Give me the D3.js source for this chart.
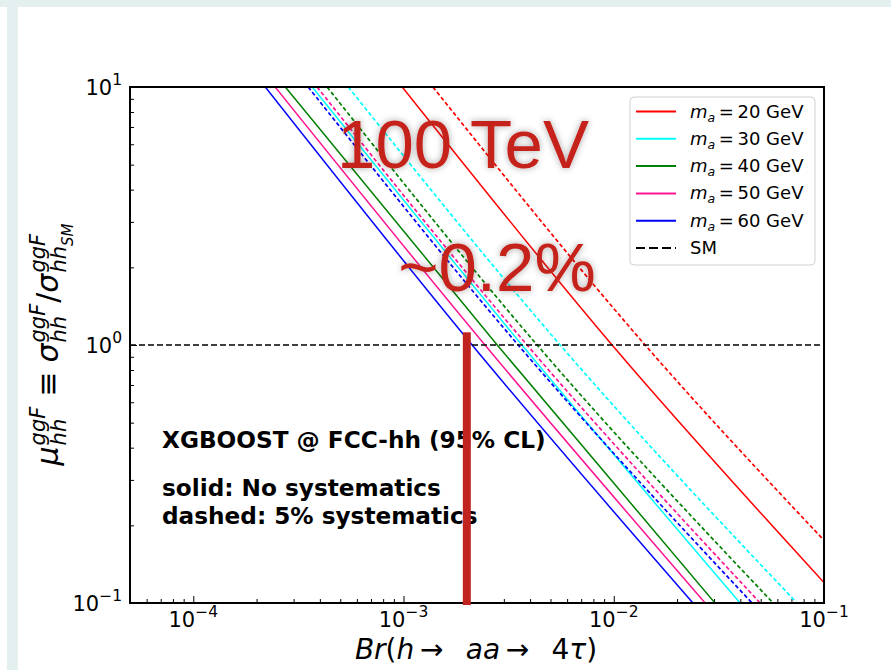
<!DOCTYPE html>
<html>
<head>
<meta charset="utf-8">
<script src="https://cdn.jsdelivr.net/npm/d3@7"></script>
<style>
  body { margin: 0; background: #fff; }
  svg { display: block; font-family: "DejaVu Sans", sans-serif; }
</style>
</head>
<body>
<div id="chart"></div>
<script>
// values
const brTicks = [1e-4, 1e-3, 1e-2, 1e-1];
const brTickExp = ["\u22124", "\u22123", "\u22122", "\u22121"];
const muTicks = [0.1, 1, 10];
const muTickExp = ["\u22121", "0", "1"];

const masses = [20, 30, 40, 50, 60];
// [Br, mu] points, solid = no systematics
const solidCurves = [
  [[9.86e-4, 10], [9.82e-3, 1], [0.1, 0.120]],
  [[3.68e-4, 10], [3.66e-3, 1], [3.99e-2, 0.1]],
  [[2.74e-4, 10], [2.79e-3, 1], [3.03e-2, 0.1]],
  [[2.45e-4, 10], [2.44e-3, 1], [2.72e-2, 0.1]],
  [[2.20e-4, 10], [2.12e-3, 1], [2.38e-2, 0.1]],
];
// dashed = 5% systematics
const dashedCurves = [
  [[1.38e-3, 10], [1.41e-2, 1], [0.1, 0.175]],
  [[5.46e-4, 10], [5.56e-3, 1], [7.44e-2, 0.1]],
  [[4.33e-4, 10], [4.32e-3, 1], [5.73e-2, 0.1]],
  [[3.88e-4, 10], [3.87e-3, 1], [4.97e-2, 0.1]],
  [[3.52e-4, 10], [3.51e-3, 1], [4.55e-2, 0.1]],
];
const smMu = 1;
const markBr = 0.002;
const markMuTop = 1.12;

const lineColors = ["#ff0000", "#00ffff", "#008000", "#ff1493", "#0000ff"];

const frame = { left: 130, right: 824, top: 87, bottom: 603 };

const svg = d3.select("#chart").append("svg")
  .attr("width", 891)
  .attr("height", 670);

const defs = svg.append("defs");
defs.append("clipPath").attr("id", "plotclip")
  .append("rect")
  .attr("x", frame.left).attr("y", frame.top)
  .attr("width", frame.right - frame.left)
  .attr("height", frame.bottom - frame.top);
defs.append("filter").attr("id", "glow")
  .attr("x", "-20%").attr("y", "-30%").attr("width", "140%").attr("height", "160%")
  .append("feDropShadow")
  .attr("dx", 0).attr("dy", 0).attr("stdDeviation", 3.5)
  .attr("flood-color", "#000").attr("flood-opacity", 0.35);

// page chrome (light band on top and left)
svg.append("rect").attr("x", 0).attr("y", 0).attr("width", 891).attr("height", 7).attr("fill", "#e4efef");
svg.append("rect").attr("x", 7).attr("y", 7).attr("width", 11).attr("height", 663).attr("fill", "#e4efef");

var x = d3.scaleLog().domain([5e-5, 0.1]).range([frame.left, frame.right]);
var y = d3.scaleLog().domain([0.1, 10]).range([frame.bottom, frame.top]);

// ticks (inward, bottom and left only)
const minorX = x.ticks().filter(d => !brTicks.includes(d));
const minorY = y.ticks().filter(d => !muTicks.includes(d));

function styleAxis(g) {
  g.select(".domain").remove();
  g.selectAll("line").attr("stroke", "#000").attr("stroke-width", 1);
}
svg.append("g").attr("transform", `translate(0,${frame.bottom})`)
  .call(d3.axisBottom(x).tickValues(brTicks).tickSize(-7).tickFormat(""))
  .call(styleAxis);
svg.append("g").attr("transform", `translate(0,${frame.bottom})`)
  .call(d3.axisBottom(x).tickValues(minorX).tickSize(-4).tickFormat(""))
  .call(styleAxis);
svg.append("g").attr("transform", `translate(${frame.left},0)`)
  .call(d3.axisLeft(y).tickValues(muTicks).tickSize(-7).tickFormat(""))
  .call(styleAxis);
svg.append("g").attr("transform", `translate(${frame.left},0)`)
  .call(d3.axisLeft(y).tickValues(minorY).tickSize(-4).tickFormat(""))
  .call(styleAxis);

// tick labels 10^n
brTicks.forEach((d, i) => {
  const t = svg.append("text")
    .attr("x", x(d)).attr("y", 627)
    .attr("text-anchor", "middle")
    .style("font-size", "21px");
  t.append("tspan").text("10");
  t.append("tspan").attr("dy", -10).style("font-size", "15.5px").text(brTickExp[i]);
});
muTicks.forEach((d, i) => {
  const t = svg.append("text")
    .attr("x", 122).attr("y", y(d) + 8)
    .attr("text-anchor", "end")
    .style("font-size", "21px");
  t.append("tspan").text("10");
  t.append("tspan").attr("dy", -10).style("font-size", "15.5px").text(muTickExp[i]);
});

// curves
const line = d3.line()
  .x(d => x(d[0]))
  .y(d => y(d[1]))
  .curve(d3.curveMonotoneX);

const plot = svg.append("g").attr("clip-path", "url(#plotclip)");

solidCurves.forEach((c, i) => {
  plot.append("path").datum(c)
    .attr("d", line)
    .attr("fill", "none")
    .attr("stroke", lineColors[i])
    .attr("stroke-width", 1.5);
});
dashedCurves.forEach((c, i) => {
  plot.append("path").datum(c)
    .attr("d", line)
    .attr("fill", "none")
    .attr("stroke", lineColors[i])
    .attr("stroke-width", 1.7)
    .attr("stroke-dasharray", "4,2.5");
});

// SM reference
plot.append("line")
  .attr("x1", x.range()[0]).attr("x2", x.range()[1])
  .attr("y1", y(smMu)).attr("y2", y(smMu))
  .attr("stroke", "#000").attr("stroke-width", 1.5)
  .attr("stroke-dasharray", "6,3");

// frame
svg.append("rect")
  .attr("x", frame.left).attr("y", frame.top)
  .attr("width", frame.right - frame.left)
  .attr("height", frame.bottom - frame.top)
  .attr("fill", "none").attr("stroke", "#000").attr("stroke-width", 2);

// legend
const leg = svg.append("g");
leg.append("rect")
  .attr("x", 630).attr("y", 97).attr("width", 185).attr("height", 168)
  .attr("rx", 4).attr("fill", "#fff").attr("fill-opacity", 0.8)
  .attr("stroke", "#d0d0d0").attr("stroke-width", 1);
masses.forEach((m, i) => {
  const ly = 111.5 + i * 27.3;
  leg.append("line").attr("x1", 636).attr("x2", 676).attr("y1", ly).attr("y2", ly)
    .attr("stroke", lineColors[i]).attr("stroke-width", 2);
  const t = leg.append("text").attr("x", 690).attr("y", ly + 6).style("font-size", "18px");
  t.append("tspan").style("font-style", "italic").text("m");
  t.append("tspan").style("font-style", "italic").style("font-size", "12.5px").attr("dy", 4).text("a");
  t.append("tspan").attr("dy", -4).text("\u2009=\u2009" + m + " GeV");
});
{
  const ly = 111.5 + 5 * 27.3;
  leg.append("line").attr("x1", 636).attr("x2", 676).attr("y1", ly).attr("y2", ly)
    .attr("stroke", "#000").attr("stroke-width", 2).attr("stroke-dasharray", "9,4");
  leg.append("text").attr("x", 690).attr("y", ly + 6).style("font-size", "18px").text("SM");
}

// annotations
const notes = ["XGBOOST @ FCC-hh (95% CL)", "solid: No systematics", "dashed: 5% systematics"];
const noteY = [448, 496, 524];
notes.forEach((n, i) => {
  svg.append("text").attr("x", 162).attr("y", noteY[i])
    .style("font-size", "23.2px").style("font-weight", "bold").text(n);
});

// Br = 0.2% marker
svg.append("rect")
  .attr("x", x(markBr) - 4).attr("y", y(markMuTop))
  .attr("width", 8).attr("height", y(0.1) - y(markMuTop) + 2)
  .attr("fill", "#c1241f");

// big overlay labels
svg.append("text").attr("x", 463).attr("y", 168)
  .attr("text-anchor", "middle")
  .style("font-family", "'Liberation Sans', Arial, sans-serif")
  .style("font-size", "69px").attr("fill", "#c5221b")
  .attr("filter", "url(#glow)")
  .text("100 TeV");
svg.append("text").attr("x", 497).attr("y", 291)
  .attr("text-anchor", "middle")
  .style("font-family", "'Liberation Sans', Arial, sans-serif")
  .style("font-size", "69px").attr("fill", "#c5221b")
  .attr("filter", "url(#glow)")
  .text("~0.2%");

// x axis title
{
  const t = svg.append("text").attr("x", 476).attr("y", 659)
    .attr("text-anchor", "middle").style("font-size", "28px");
  const arrow = "\u2009\u2192\u2002\u2009\u200a";
  const parts = [["Br", 1], ["(", 0], ["h", 1], [arrow, 0], ["aa", 1], [arrow, 0], ["4", 0], ["\u03c4", 1], [")", 0]];
  parts.forEach(p => t.append("tspan").style("font-style", p[1] ? "italic" : "normal").text(p[0]));
}

// y axis title, built piece by piece so super/subscripts stack
function mathLabel(g, items, size) {
  let cx = 0;
  items.forEach(it => {
    cx += (it.pre || 0) * size;
    const b = g.append("text").attr("x", cx).attr("y", 0)
      .style("font-size", size + "px")
      .style("font-style", it.it ? "italic" : "normal")
      .text(it.t);
    cx += b.node().getComputedTextLength();
    let extra = 0;
    if (it.sup) {
      const s = g.append("text").attr("x", cx + 1).attr("y", -0.42 * size)
        .style("font-size", 0.7 * size + "px").style("font-style", "italic").text(it.sup);
      extra = Math.max(extra, s.node().getComputedTextLength());
    }
    if (it.sub) {
      const s = g.append("text").attr("x", cx + 1).attr("y", 0.28 * size)
        .style("font-size", 0.7 * size + "px").style("font-style", "italic").text(it.sub);
      let w = s.node().getComputedTextLength();
      if (it.subsub) {
        const ss = g.append("text").attr("x", cx + 1 + w).attr("y", 0.28 * size + 0.22 * size)
          .style("font-size", 0.5 * size + "px").style("font-style", "italic").text(it.subsub);
        w += ss.node().getComputedTextLength();
      }
      extra = Math.max(extra, w);
    }
    if (extra) cx += extra + 2;
    cx += (it.post || 0) * size;
  });
  return cx;
}
{
  const g = svg.append("g");
  const inner = g.append("g");
  const yTitle = [
    { t: "\u03bc", it: 1, sup: "ggF", sub: "hh" },
    { t: "\u2261", pre: 0.3, post: 0.3 },
    { t: "\u03c3", it: 1, sup: "ggF", sub: "hh" },
    { t: "/" },
    { t: "\u03c3", it: 1, sup: "ggF", sub: "hh", subsub: "SM" },
  ];
  const w = mathLabel(inner, yTitle, 30);
  inner.attr("transform", `translate(${-w / 2},0)`);
  g.attr("transform", "translate(58,344) rotate(-90)");
}
</script>
</body>
</html>
